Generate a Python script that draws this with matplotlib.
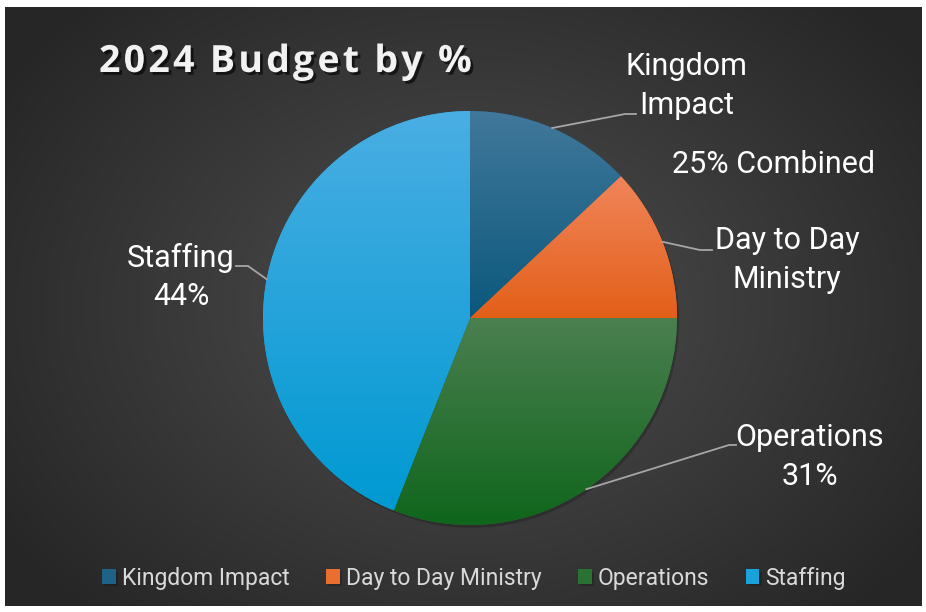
import numpy as np
import matplotlib
matplotlib.use("Agg")
import matplotlib.pyplot as plt
import matplotlib.patheffects as pe
from matplotlib.colors import LinearSegmentedColormap

# data
categories = ["Kingdom Impact", "Day to Day Ministry", "Operations", "Staffing"]
shares = [13, 12, 31, 44]
slice_labels = ["Kingdom\nImpact", "Day to Day\nMinistry", "Operations\n31%", "Staffing\n44%"]
top_colors = ["#41789b", "#f0855a", "#4b7f50", "#4aaee3"]
bottom_colors = ["#0b587c", "#e35f18", "#0f661c", "#0099d2"]
mid_colors = ["#1f6288", "#ea6e30", "#2a7234", "#1aa2da"]
title = "2024 Budget by %"

plt.rcParams['font.family'] = ['Roboto', 'DejaVu Sans']

W, H = 926, 612
fig = plt.figure(figsize=(W / 100, H / 100), dpi=100)
fig.patch.set_facecolor("white")

# radial background
bg = fig.add_axes([5 / W, 6 / H, 917 / W, 599 / H])
yy, xx = np.mgrid[0:599, 0:917]
d = np.sqrt(((xx - 465) / 560.0) ** 2 + ((yy - 300) / 420.0) ** 2)
d = np.clip(d, 0, 1)
g = 0.31 - 0.16 * d
bg.imshow(np.dstack([g, g, g]), aspect="auto", interpolation="bilinear")
bg.set_axis_off()

# pie
cx, cy, R = 470, 318, 207
ax = fig.add_axes([(cx - R) / W, (H - cy - R) / H, 2 * R / W, 2 * R / H])
wedges, _ = ax.pie(shares, colors=mid_colors, startangle=90, counterclock=False,
                   radius=1, wedgeprops=dict(linewidth=0))
ax.set_aspect("equal")
ax.set_axis_off()

for w, c1, c2 in zip(wedges, top_colors, bottom_colors):
    w.set_path_effects([pe.SimplePatchShadow(offset=(1.5, -2), shadow_rgbFace="black", alpha=0.2), pe.Normal()])
    ext = w.get_path().get_extents()
    cmap = LinearSegmentedColormap.from_list("g", [c1, c2])
    grad = np.linspace(0, 1, 256).reshape(-1, 1)
    im = ax.imshow(grad, cmap=cmap, extent=[ext.x0, ext.x1, ext.y0, ext.y1],
                   aspect="auto", origin="upper", zorder=w.get_zorder() + 0.1)
    im.set_clip_path(w)
ax.set_xlim(-1, 1)
ax.set_ylim(-1, 1)


def px(x, y):
    return (x - cx) / R, (cy - y) / R


# leader lines: start on wedge edge at mid angle, elbow near label
elbows = [[(625, 114), (636, 114)], [(700, 250), (712, 250)],
          [(729, 445), (736, 445)], [(248, 266), (236, 266)]]
total = float(sum(shares))
cum = 0
for i, s in enumerate(shares):
    mid = 90 - 360 * (cum + s / 2) / total
    cum += s
    sx, sy = np.cos(np.radians(mid)), np.sin(np.radians(mid))
    pts = [(sx, sy)] + [px(*p) for p in elbows[i]]
    ax.plot([p[0] for p in pts], [p[1] for p in pts], color="#a6a6a6",
            lw=1.3, clip_on=False, zorder=5)

label_pos = [(687, 86), (787, 260), (810, 457), (181, 277)]
for lab, (x, y) in zip(slice_labels, label_pos):
    fig.text(x / W, 1 - y / H, lab, color="white", fontsize=22, ha="center",
             va="center", linespacing=1.42)

fig.text(774 / W, 1 - 165 / H, "25% Combined", color="white", fontsize=22,
         ha="center", va="center")

# title with letter spacing, placed char by char
renderer = fig.canvas.get_renderer()
x0 = 99
shadow = [pe.withSimplePatchShadow(offset=(2, -2), shadow_rgbFace="black", alpha=0.6)]
for ch in title:
    t = fig.text(x0 / W, 1 - 62 / H, ch, color="#f2f2f2", fontsize=27,
                 fontweight="bold", ha="left", va="center",
                 family=["Open Sans", "DejaVu Sans"])
    t.set_path_effects(shadow)
    if ch == " ":
        adv = 9
    else:
        adv = t.get_window_extent(renderer).width
    x0 += adv + 3.2

leg = fig.legend(wedges, categories, loc="center", bbox_to_anchor=(474 / W, 1 - 578 / H),
                 ncol=4, frameon=False, fontsize=16.5, handlelength=0.6, handleheight=0.6,
                 handletextpad=0.25, columnspacing=1.6, labelcolor="#d9d9d9")

fig.savefig("out.png", dpi=100, facecolor="white")
